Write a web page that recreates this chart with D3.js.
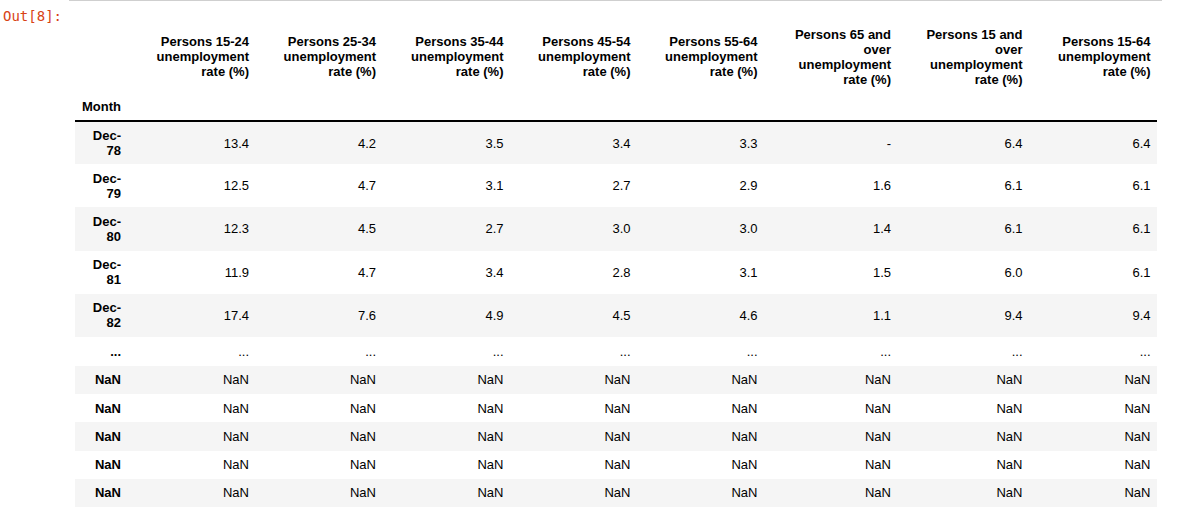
<!DOCTYPE html>
<html>
<head>
<meta charset="utf-8">
<script src="https://cdn.jsdelivr.net/npm/d3@7"></script>
<style>
  body { margin: 0; background: #fff; width: 1177px; height: 517px; overflow: hidden; position: relative; }
  #topline { position: absolute; left: 69px; top: 0; width: 1093px; height: 1px; background: #cfcfcf; }
  #prompt { position: absolute; left: 3px; top: 8px; font-family: "DejaVu Sans Mono", monospace; font-size: 14px; line-height: 17px; color: #d84315; }
  table.dataframe {
    position: absolute; left: 75px; top: 20px;
    border-collapse: collapse; border-spacing: 0; table-layout: fixed;
    font-family: "Liberation Sans", Arial, sans-serif; font-size: 13px; color: #000;
  }
  table.dataframe th, table.dataframe td {
    padding: 0 6.5px; text-align: right; vertical-align: middle;
    line-height: 15px; border: none; white-space: normal; overflow: hidden;
  }
  table.dataframe th { font-weight: bold; }
  table.dataframe thead th.col { padding-left: 8px; }
  table.dataframe thead { border-bottom: 2px solid #000; }
  table.dataframe tbody tr:nth-child(odd) { background: #f5f5f5; }
</style>
</head>
<body>
<div id="topline"></div>
<div id="prompt">Out[8]:</div>
<div id="out"></div>
<script>
// column headers of the DataFrame
var columnNames = [
  "Persons 15-24 unemployment rate (%)",
  "Persons 25-34 unemployment rate (%)",
  "Persons 35-44 unemployment rate (%)",
  "Persons 45-54 unemployment rate (%)",
  "Persons 55-64 unemployment rate (%)",
  "Persons 65 and over unemployment rate (%)",
  "Persons 15 and over unemployment rate (%)",
  "Persons 15-64 unemployment rate (%)"
];
var indexName = "Month";

// head rows
var months = ["Dec-78", "Dec-79", "Dec-80", "Dec-81", "Dec-82"];
var persons15to24 = [13.4, 12.5, 12.3, 11.9, 17.4];
var persons25to34 = [4.2, 4.7, 4.5, 4.7, 7.6];
var persons35to44 = [3.5, 3.1, 2.7, 3.4, 4.9];
var persons45to54 = [3.4, 2.7, 3.0, 2.8, 4.5];
var persons55to64 = [3.3, 2.9, 3.0, 3.1, 4.6];
var persons65over = [null, 1.6, 1.4, 1.5, 1.1];   // null shown as "-"
var persons15over = [6.4, 6.1, 6.1, 6.0, 9.4];
var persons15to64 = [6.4, 6.1, 6.1, 6.1, 9.4];

// tail rows (all missing)
var tailMonths = [NaN, NaN, NaN, NaN, NaN];
var tailValues = [NaN, NaN, NaN, NaN, NaN, NaN, NaN, NaN];

var series = [persons15to24, persons25to34, persons35to44, persons45to54,
              persons55to64, persons65over, persons15over, persons15to64];

var fmt = d3.format(".1f");
function cellText(v) {
  if (v === null) return "-";
  if (typeof v === "number" && isNaN(v)) return "NaN";
  if (typeof v === "number") return fmt(v);
  return v;
}

var rows = [];
months.forEach(function(m, i) {
  rows.push({ index: m, values: series.map(function(s) { return s[i]; }), h: 43.2 });
});
rows.push({ index: "...", values: columnNames.map(function() { return "..."; }), h: 28.7 });
tailMonths.forEach(function(m) {
  rows.push({ index: m, values: tailValues, h: 28.3 });
});

var colWidths = [52.5, 128, 127, 127.5, 127, 127, 133.5, 131.5, 128];

var table = d3.select("#out").append("table")
  .attr("class", "dataframe")
  .style("width", d3.sum(colWidths) + "px");

table.append("colgroup").selectAll("col")
  .data(colWidths)
  .enter().append("col")
  .style("width", function(d) { return d + "px"; });

var thead = table.append("thead");
var hr1 = thead.append("tr").style("height", "73px");
hr1.append("th");
hr1.selectAll("th.col").data(columnNames)
  .enter().append("th")
  .attr("class", "col")
  .text(function(d) { return d; });

var hr2 = thead.append("tr").style("height", "28px");
hr2.append("th").text(indexName);
hr2.selectAll("th.blank").data(columnNames)
  .enter().append("th")
  .attr("class", "blank");

var tr = table.append("tbody").selectAll("tr")
  .data(rows)
  .enter().append("tr")
  .style("height", function(d) { return d.h + "px"; });

tr.append("th").text(function(d) { return cellText(d.index); });
tr.selectAll("td")
  .data(function(d) { return d.values; })
  .enter().append("td")
  .text(cellText);
</script>
</body>
</html>
